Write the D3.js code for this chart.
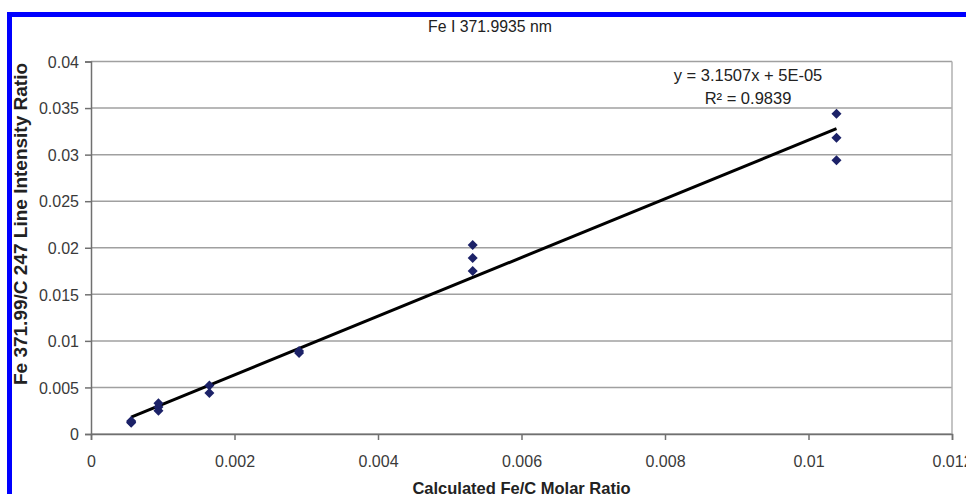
<!DOCTYPE html>
<html>
<head>
<meta charset="utf-8">
<script src="https://cdn.jsdelivr.net/npm/d3@7"></script>
<style>
  body { margin: 0; background: #fff; }
  svg { display: block; font-family: "Liberation Sans", Arial, sans-serif; }
</style>
</head>
<body>
<div id="chart"></div>
<script>
// Data
var molarRatio = [0.00056, 0.00056, 0.00056, 0.00094, 0.00094, 0.00094, 0.00165, 0.00165, 0.0029, 0.0029,
                  0.00532, 0.00532, 0.00532, 0.01039, 0.01039, 0.01039];
var intensityRatio = [0.0012, 0.0013, 0.0014, 0.0025, 0.0029, 0.0033, 0.0044, 0.0052, 0.0087, 0.0089,
                      0.0175, 0.0189, 0.0203, 0.0294, 0.0318, 0.0344];
var xTicks = [0, 0.002, 0.004, 0.006, 0.008, 0.01, 0.012];
var yTicks = [0, 0.005, 0.01, 0.015, 0.02, 0.025, 0.03, 0.035, 0.04];
var slope = 3.1507;
var intercept = 0.00005;
var equationLines = ["y = 3.1507x + 5E-05", "R² = 0.9839"];

var w = 966;
var h = 494;
// plot area edges
var plotLeft = 91, plotRight = 952, plotTop = 61.5, plotBottom = 434;

var svg = d3.select("#chart")
    .append("svg")
    .attr("width", w)
    .attr("height", h);

// Blue frame
svg.append("rect").attr("x", 7).attr("y", 12).attr("width", w).attr("height", 5).attr("fill", "#0000ff");
svg.append("rect").attr("x", 7).attr("y", 12).attr("width", 5).attr("height", h).attr("fill", "#0000ff");

var xScale = d3.scaleLinear().domain([0, 0.012]).range([plotLeft, plotRight]);
var yScale = d3.scaleLinear().domain([0, 0.04]).range([plotBottom, plotTop]);

// Horizontal gridlines
svg.append("g")
    .selectAll("line")
    .data(yTicks)
    .enter()
    .append("line")
    .attr("x1", plotLeft)
    .attr("x2", plotRight)
    .attr("y1", d => yScale(d))
    .attr("y2", d => yScale(d))
    .attr("stroke", "#a0a0a0")
    .attr("stroke-width", 1.5);

// Right border of plot area
svg.append("line")
    .attr("x1", plotRight).attr("x2", plotRight)
    .attr("y1", plotTop).attr("y2", plotBottom)
    .attr("stroke", "#b0b0b0")
    .attr("stroke-width", 1.5);

// Y axis
var yAxis = svg.append("g")
    .attr("transform", `translate(${plotLeft},0)`)
    .call(d3.axisLeft(yScale).tickValues(yTicks).tickSize(6).tickPadding(6).tickFormat(d => String(+d.toFixed(3))));

// X axis
var xAxis = svg.append("g")
    .attr("transform", `translate(0,${plotBottom})`)
    .call(d3.axisBottom(xScale).tickValues(xTicks).tickSize(6).tickPadding(16).tickFormat(d => String(+d.toFixed(3))));

[yAxis, xAxis].forEach(function(ax) {
    ax.select(".domain").attr("stroke", "#707070").attr("stroke-width", 1.5);
    ax.selectAll(".tick line").attr("stroke", "#707070").attr("stroke-width", 1.5);
    ax.selectAll(".tick text")
        .attr("fill", "#3a3a3a")
        .style("font-size", "16px")
        .style("font-family", "'Liberation Sans', Arial, sans-serif");
});
yAxis.selectAll(".tick text").attr("dy", "0.36em");

// Trendline
var xExtent = d3.extent(molarRatio);
svg.append("line")
    .attr("x1", xScale(xExtent[0]))
    .attr("y1", yScale(slope * xExtent[0] + intercept))
    .attr("x2", xScale(xExtent[1]))
    .attr("y2", yScale(slope * xExtent[1] + intercept))
    .attr("stroke", "#000")
    .attr("stroke-width", 3);

// Diamond markers
var diamond = d3.symbol().type(d3.symbolDiamond2).size(64);
svg.append("g")
    .selectAll("path")
    .data(molarRatio)
    .enter()
    .append("path")
    .attr("d", diamond)
    .attr("transform", (d, i) => `translate(${xScale(d)},${yScale(intensityRatio[i])})`)
    .attr("fill", "#1c2268");

// Title
svg.append("text")
    .attr("x", 490)
    .attr("y", 32)
    .attr("text-anchor", "middle")
    .attr("fill", "#222")
    .style("font-size", "15.8px")
    .text("Fe I 371.9935 nm");

// Trendline equation
svg.append("g")
    .selectAll("text")
    .data(equationLines)
    .enter()
    .append("text")
    .attr("x", 748)
    .attr("y", (d, i) => 81 + i * 23)
    .attr("text-anchor", "middle")
    .attr("fill", "#222")
    .style("font-size", "16.5px")
    .text(d => d);

// Axis titles
svg.append("text")
    .attr("x", (plotLeft + plotRight) / 2)
    .attr("y", 494)
    .attr("text-anchor", "middle")
    .attr("fill", "#222")
    .style("font-size", "16.5px")
    .style("font-weight", "bold")
    .text("Calculated Fe/C Molar Ratio");

svg.append("text")
    .attr("transform", "translate(27,224) rotate(-90)")
    .attr("text-anchor", "middle")
    .attr("fill", "#222")
    .style("font-size", "19px")
    .style("font-weight", "bold")
    .text("Fe 371.99/C 247 Line Intensity Ratio");
</script>
</body>
</html>
